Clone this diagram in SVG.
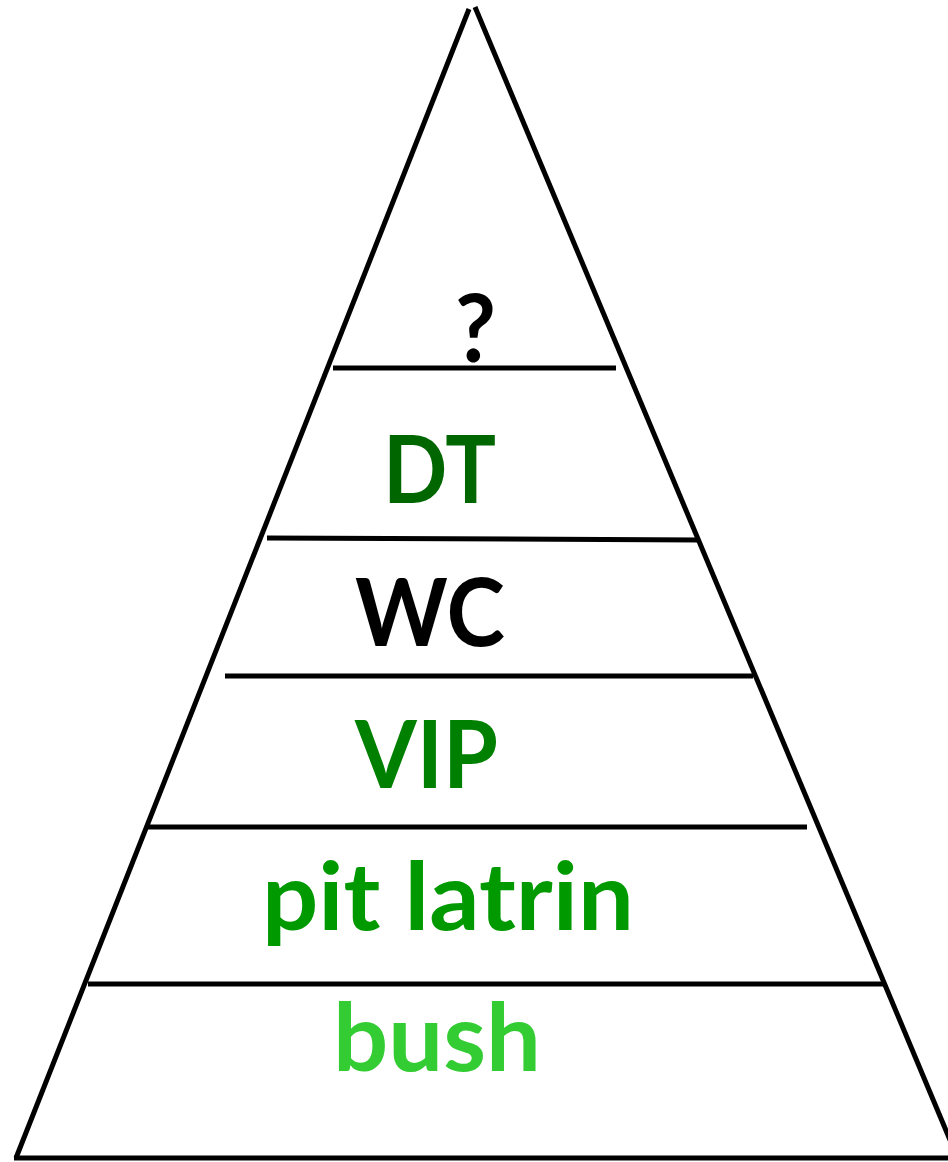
<svg xmlns="http://www.w3.org/2000/svg" width="948" height="1162" viewBox="0 0 948 1162">
<style>
.ln{stroke:#000;stroke-width:5;fill:none;stroke-linecap:butt}
.t{font-family:Lato,"Open Sans","Liberation Sans",sans-serif;font-weight:bold;font-size:94px}
</style>
<rect width="948" height="1162" fill="#fff"/>
<g id="connectors">
<line class="ln" x1="469" y1="9" x2="16" y2="1158"/>
<line class="ln" x1="475" y1="7" x2="950" y2="1140"/>
<line class="ln" x1="14" y1="1158" x2="948" y2="1158"/>
<line class="ln" x1="333" y1="368" x2="616" y2="368"/>
<line class="ln" x1="267" y1="538" x2="700" y2="540"/>
<line class="ln" x1="225" y1="676" x2="753" y2="676"/>
<line class="ln" x1="146" y1="827" x2="807" y2="827"/>
<line class="ln" x1="88" y1="984" x2="886" y2="984"/>
</g>
<g id="node-top"><text class="t" x="455" y="362" fill="#000" font-size="102" textLength="41" lengthAdjust="spacingAndGlyphs">?</text></g>
<g id="node-dt"><text class="t" x="383" y="503" fill="#006600" textLength="113" lengthAdjust="spacingAndGlyphs">DT</text></g>
<g id="node-wc"><text class="t" x="355" y="646" fill="#000" textLength="150" lengthAdjust="spacingAndGlyphs">WC</text></g>
<g id="node-vip"><text class="t" x="355" y="788" fill="#008000" textLength="143" lengthAdjust="spacingAndGlyphs">VIP</text></g>
<g id="node-pit"><text class="t" x="262" y="930" fill="#009900" textLength="372" lengthAdjust="spacingAndGlyphs">pit latrin</text></g>
<g id="node-bush"><text class="t" x="333" y="1071" fill="#33cc33" textLength="208" lengthAdjust="spacingAndGlyphs">bush</text></g>
</svg>
